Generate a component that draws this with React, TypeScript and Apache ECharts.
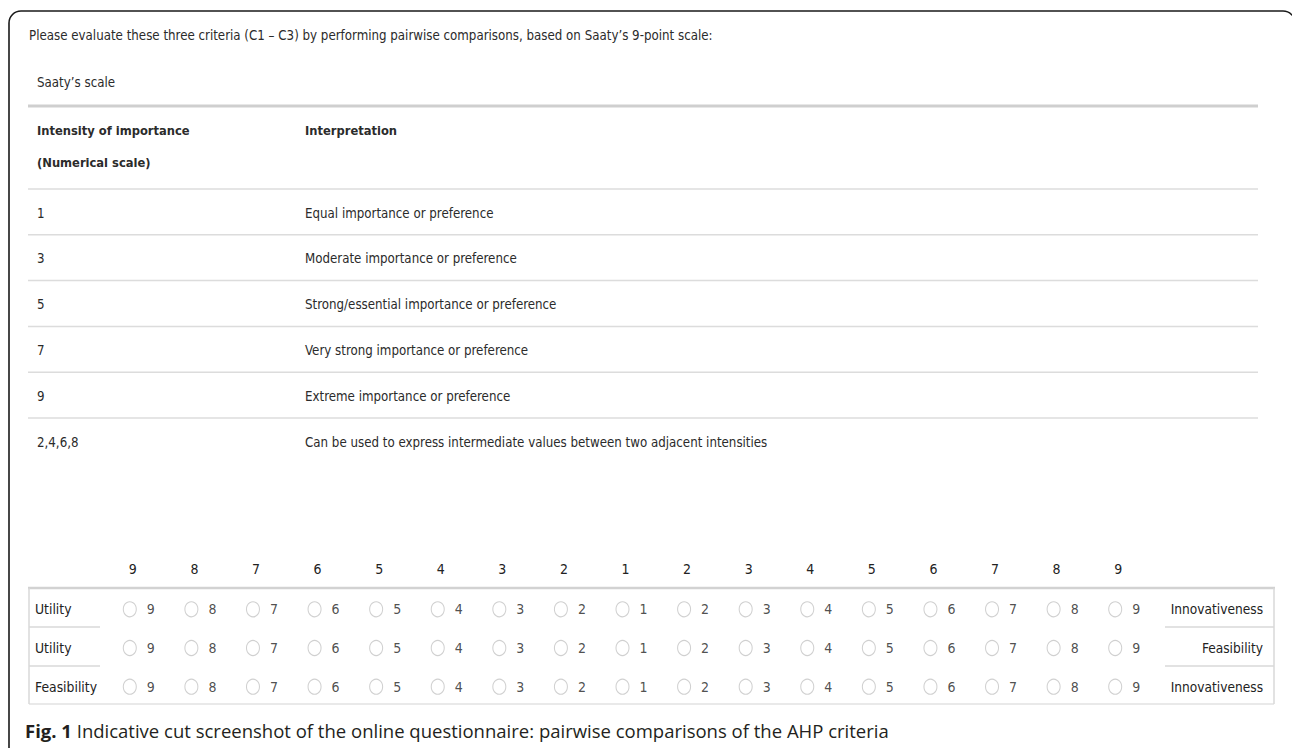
import React, { useEffect, useRef } from "react";
import * as echarts from "echarts";

const introText =
  "Please evaluate these three criteria (C1 – C3) by performing pairwise comparisons, based on Saaty’s 9-point scale:";
const scaleTitle = "Saaty’s scale";
const headerIntensity = ["Intensity of importance", "(Numerical scale)"];
const headerInterpretation = "Interpretation";
const intensities = ["1", "3", "5", "7", "9", "2,4,6,8"];
const interpretations = [
  "Equal importance or preference",
  "Moderate importance or preference",
  "Strong/essential importance or preference",
  "Very strong importance or preference",
  "Extreme importance or preference",
  "Can be used to express intermediate values between two adjacent intensities",
];
const scalePoints = ["9", "8", "7", "6", "5", "4", "3", "2", "1", "2", "3", "4", "5", "6", "7", "8", "9"];
const leftCriteria = ["Utility", "Utility", "Feasibility"];
const rightCriteria = ["Innovativeness", "Feasibility", "Innovativeness"];
const captionBold = "Fig. 1";
const captionText = "Indicative cut screenshot of the online questionnaire: pairwise comparisons of the AHP criteria";

const FONT = "'DejaVu Sans Condensed', 'Noto Sans', sans-serif";
const TXT = "#2b2b2b";
const NUM = "#222222";

export default function App() {
  const ref = useRef<HTMLDivElement>(null);
  useEffect(() => {
    if (!ref.current) return;
    const chart = echarts.init(ref.current, null, { renderer: "svg" });

    const graphics: any[] = [];
    // outer frame
    graphics.push({
      type: "rect",
      shape: { x: 9, y: 11, width: 1286, height: 800, r: 12 },
      style: { fill: "none", stroke: "#1a1a1a", lineWidth: 1.6 },
      silent: true,
    });
    const text = (x: number, y: number, t: string, extra: any = {}) => ({
      type: "text",
      x,
      y,
      style: {
        text: t,
        fill: TXT,
        font: `${extra.bold ? "bold " : ""}${extra.size || 13.2}px ${FONT}`,
        textVerticalAlign: "middle",
        textAlign: extra.align || "left",
      },
      silent: true,
    });
    const hline = (x1: number, x2: number, y: number, color: string, w: number) => ({
      type: "line",
      shape: { x1, y1: y, x2, y2: y },
      style: { stroke: color, lineWidth: w },
      silent: true,
    });
    const vline = (x: number, y1: number, y2: number, color: string, w: number) => ({
      type: "line",
      shape: { x1: x, y1, x2: x, y2 },
      style: { stroke: color, lineWidth: w },
      silent: true,
    });

    graphics.push(text(29, 35, introText));
    graphics.push(text(37, 82, scaleTitle));
    graphics.push(hline(28, 1258, 106, "#cfcfcf", 3));
    graphics.push(text(37, 130, headerIntensity[0], { bold: true, size: 12.8 }));
    graphics.push(text(37, 162, headerIntensity[1], { bold: true, size: 12.8 }));
    graphics.push(text(305, 130, headerInterpretation, { bold: true, size: 12.8 }));
    const lineStart = 189;
    const rowStep = 45.8;
    intensities.forEach((v, i) => {
      graphics.push(hline(28, 1258, lineStart + i * rowStep, "#dcdcdc", 1.5));
      const cy = lineStart + i * rowStep + 24;
      graphics.push(text(37, cy, v));
      graphics.push(text(305, cy, interpretations[i]));
    });

    // bottom table frame
    graphics.push(hline(28, 1275, 588, "#d2d2d2", 2.5));
    graphics.push(hline(29, 1274, 704, "#e2e2e2", 1.5));
    graphics.push(vline(29, 588, 704, "#d8d8d8", 1.5));
    graphics.push(vline(1274, 588, 704, "#d8d8d8", 1.5));
    [627, 666].forEach((y) => {
      graphics.push(hline(29, 100, y, "#d8d8d8", 1.5));
      graphics.push(hline(1165, 1274, y, "#d8d8d8", 1.5));
    });

    // caption
    graphics.push({
      type: "text",
      x: 25,
      y: 730,
      style: {
        text: `{b|${captionBold}} ${captionText}`,
        fill: "#231f20",
        font: "18.5px 'Open Sans', sans-serif",
        textVerticalAlign: "middle",
        rich: {
          b: { fontWeight: "bold", fontFamily: "'Open Sans', sans-serif", fontSize: 18.5, fill: "#231f20" },
        },
      },
      silent: true,
    });

    const data: number[][] = [];
    leftCriteria.forEach((_, r) => {
      scalePoints.forEach((_, c) => data.push([c, r]));
    });

    chart.setOption({
      animation: false,
      backgroundColor: "#ffffff",
      grid: { left: 99, width: 1047, top: 590, height: 116 },
      xAxis: {
        type: "category",
        position: "top",
        data: scalePoints,
        axisLine: { show: false },
        axisTick: { show: false },
        splitLine: { show: false },
        axisLabel: { margin: 14, color: NUM, fontSize: 14, fontFamily: FONT, padding: [0, 0, 0, 6], interval: 0 },
      },
      yAxis: [
        {
          type: "category",
          inverse: true,
          position: "left",
          data: leftCriteria,
          axisLine: { show: false },
          axisTick: { show: false },
          splitLine: { show: false },
          axisLabel: { margin: 64, align: "left", color: NUM, fontSize: 13.8, fontFamily: FONT },
        },
        {
          type: "category",
          inverse: true,
          position: "right",
          data: rightCriteria,
          axisLine: { show: false },
          axisTick: { show: false },
          splitLine: { show: false },
          axisLabel: { margin: 117, align: "right", color: NUM, fontSize: 13.6, fontFamily: FONT },
        },
      ],
      series: [
        {
          type: "scatter",
          data,
          symbol: "circle",
          symbolSize: [13, 15],
          itemStyle: { color: "#ffffff", borderColor: "#c4c4c4", borderWidth: 1.1 },
          label: {
            show: true,
            position: "right",
            distance: 10,
            color: NUM,
            fontSize: 14,
            fontFamily: FONT,
            formatter: (p: any) => scalePoints[p.value[0]],
          },
          silent: true,
        },
      ],
      graphic: graphics,
    });
    return () => chart.dispose();
  }, []);
  return (
    <div
      ref={ref}
      style={{ position: "absolute", left: 0, top: 0, width: 1292, height: 748, background: "#fff" }}
    />
  );
}
